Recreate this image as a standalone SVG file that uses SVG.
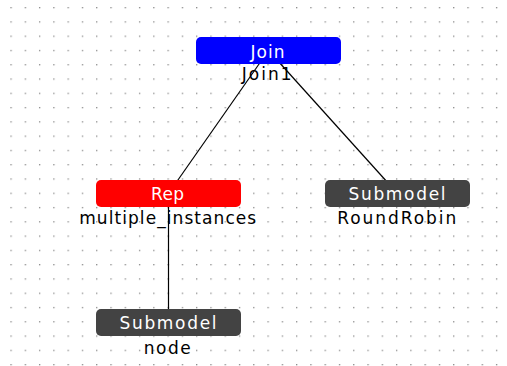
<svg xmlns="http://www.w3.org/2000/svg" width="507" height="366" viewBox="0 0 507 366">
<style>
text{font-family:"DejaVu Sans","Liberation Sans",sans-serif;font-size:17px;text-anchor:middle}
.t{fill:#fff}
.l{fill:#000}
.e{stroke:#000;stroke-width:1.2;fill:none}
</style>
<defs>
<pattern id="g" x="10.4" y="7" width="14.28" height="14.28" patternUnits="userSpaceOnUse">
<rect width="1.3" height="1.3" fill="#8a8a8a"/>
</pattern>
</defs>
<rect width="507" height="366" fill="#fff"/>
<rect width="507" height="366" fill="url(#g)"/>
<g id="connectors">
<line class="e" x1="268.5" y1="50.5" x2="168.5" y2="193.5"/>
<line class="e" x1="268.5" y1="50.5" x2="397.5" y2="193.5"/>
<line class="e" x1="168.5" y1="193.5" x2="168.5" y2="322.5" stroke-width="1.6"/>
</g>
<g id="join">
<rect x="196" y="37" width="145" height="27" rx="5" fill="#0000ff"/>
<text class="t" x="267.5" y="57.5" textLength="34" lengthAdjust="spacing">Join</text>
<text class="l" x="266.7" y="80" textLength="50" lengthAdjust="spacing">Join1</text>
</g>
<g id="rep">
<rect x="96" y="180" width="145" height="27" rx="5" fill="#ff0000"/>
<text class="t" x="167.5" y="200" textLength="33" lengthAdjust="spacing">Rep</text>
<text class="l" x="167.7" y="223.8" textLength="177" lengthAdjust="spacing">multiple_instances</text>
</g>
<g id="roundrobin">
<rect x="325" y="180" width="145" height="27" rx="5" fill="#434343"/>
<text class="t" x="397" y="200" textLength="97" lengthAdjust="spacing">Submodel</text>
<text class="l" x="396.7" y="224.3" textLength="119" lengthAdjust="spacing">RoundRobin</text>
</g>
<g id="node">
<rect x="96" y="309" width="145" height="27" rx="5" fill="#434343"/>
<text class="t" x="168" y="328.5" textLength="97" lengthAdjust="spacing">Submodel</text>
<text class="l" x="167.3" y="353.5" textLength="47" lengthAdjust="spacing">node</text>
</g>
</svg>
